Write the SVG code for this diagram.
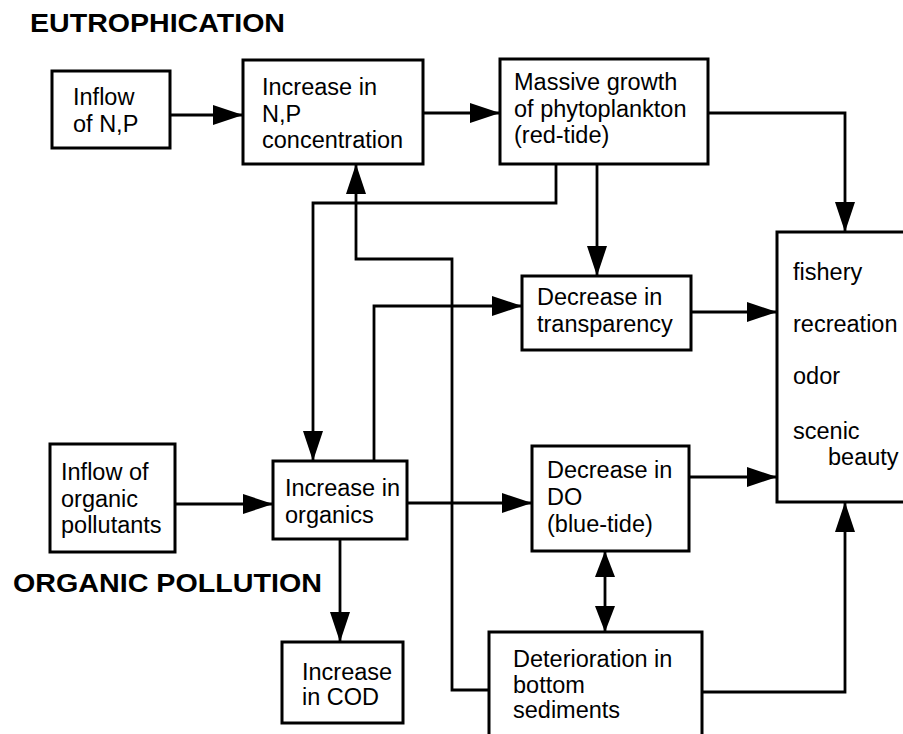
<svg xmlns="http://www.w3.org/2000/svg" width="903" height="734" viewBox="0 0 903 734">
<style>
  .box { fill: #fff; stroke: #000; stroke-width: 3; }
  .t { font-family: "Liberation Sans", Arial, Helvetica, sans-serif; font-size: 23.5px; fill: #000; }
  .h { font-family: "Liberation Sans", Arial, Helvetica, sans-serif; font-weight: bold; fill: #000; }
  .c { fill: none; stroke: #000; stroke-width: 2.8; }
  .a { marker-end: url(#arr); }
</style>
<defs>
  <marker id="arr" markerUnits="userSpaceOnUse" markerWidth="30" markerHeight="20" refX="30" refY="10" orient="auto">
    <path d="M0,0 L30,10 L0,20 z" fill="#000"/>
  </marker>
  <marker id="arrS" markerUnits="userSpaceOnUse" markerWidth="26" markerHeight="20" refX="26" refY="10" orient="auto-start-reverse">
    <path d="M0,0 L26,10 L0,20 z" fill="#000"/>
  </marker>
</defs>
<rect width="903" height="734" fill="#fff"/>

<text class="h" x="30" y="32" font-size="25" textLength="255" lengthAdjust="spacingAndGlyphs">EUTROPHICATION</text>
<text class="h" x="13" y="592" font-size="26" textLength="309" lengthAdjust="spacingAndGlyphs">ORGANIC POLLUTION</text>

<g id="connectors">
  <path class="c a" d="M170,115 H243"/>
  <path class="c a" d="M423,113 H500"/>
  <path class="c a" d="M708,113 H845 V232"/>
  <path class="c a" d="M597,164 V276"/>
  <path class="c a" d="M556,164 V203 H313 V461"/>
  <path class="c a" d="M489,690 H452 V259 H356 V164"/>
  <path class="c a" d="M374,461 V306 H522"/>
  <path class="c a" d="M691,312 H777"/>
  <path class="c a" d="M175,504 H273"/>
  <path class="c a" d="M407,503 H532"/>
  <path class="c a" d="M689,477 H777"/>
  <path class="c a" d="M340,539 V642"/>
  <path class="c" d="M605,551 V632" marker-start="url(#arrS)" marker-end="url(#arrS)"/>
  <path class="c a" d="M702,692 H845 V502"/>
</g>

<g id="inflowNP">
  <rect class="box" x="52" y="71" width="118" height="77"/>
  <text class="t" x="73" y="105">Inflow</text>
  <text class="t" x="73" y="132">of N,P</text>
</g>
<g id="increaseNP">
  <rect class="box" x="243" y="60" width="180" height="104"/>
  <text class="t" x="262" y="95">Increase in</text>
  <text class="t" x="262" y="122">N,P</text>
  <text class="t" x="262" y="148">concentration</text>
</g>
<g id="phytoplankton">
  <rect class="box" x="500" y="59" width="208" height="105"/>
  <text class="t" x="514" y="90">Massive growth</text>
  <text class="t" x="514" y="117">of phytoplankton</text>
  <text class="t" x="514" y="143">(red-tide)</text>
</g>
<g id="transparency">
  <rect class="box" x="522" y="276" width="169" height="74"/>
  <text class="t" x="537" y="305">Decrease in</text>
  <text class="t" x="537" y="332">transparency</text>
</g>
<g id="impacts">
  <rect class="box" x="777" y="232" width="140" height="270"/>
  <text class="t" x="793" y="280">fishery</text>
  <text class="t" x="793" y="332">recreation</text>
  <text class="t" x="793" y="384">odor</text>
  <text class="t" x="793" y="439">scenic</text>
  <text class="t" x="828" y="465">beauty</text>
</g>
<g id="inflowOrganic">
  <rect class="box" x="50" y="444" width="125" height="108"/>
  <text class="t" x="61" y="480">Inflow of</text>
  <text class="t" x="61" y="507">organic</text>
  <text class="t" x="61" y="533">pollutants</text>
</g>
<g id="organics">
  <rect class="box" x="273" y="461" width="134" height="78"/>
  <text class="t" x="285" y="496">Increase in</text>
  <text class="t" x="285" y="523">organics</text>
</g>
<g id="DO">
  <rect class="box" x="532" y="446" width="157" height="105"/>
  <text class="t" x="547" y="478">Decrease in</text>
  <text class="t" x="547" y="505">DO</text>
  <text class="t" x="547" y="532">(blue-tide)</text>
</g>
<g id="COD">
  <rect class="box" x="282" y="642" width="121" height="81"/>
  <text class="t" x="302" y="680">Increase</text>
  <text class="t" x="302" y="705">in COD</text>
</g>
<g id="sediments">
  <rect class="box" x="489" y="632" width="213" height="110"/>
  <text class="t" x="513" y="667">Deterioration in</text>
  <text class="t" x="513" y="693">bottom</text>
  <text class="t" x="513" y="718">sediments</text>
</g>
</svg>
